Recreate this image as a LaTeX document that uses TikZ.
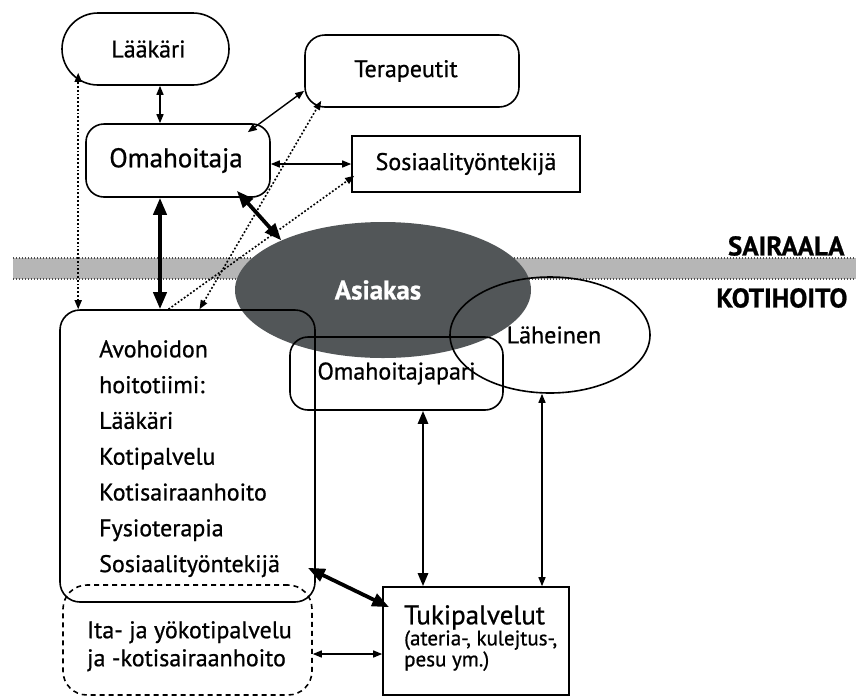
\documentclass[tikz,border=0pt]{standalone}
\usepackage{fontspec}
\setmainfont{PT Sans}[FakeBold=0.8]
\usetikzlibrary{arrows.meta,shapes.geometric}
\definecolor{asiakasfill}{RGB}{82,86,88}
\definecolor{bandfill}{RGB}{182,182,182}

\begin{document}
\begin{tikzpicture}[x=1pt,y=-1pt,
      box/.style={rectangle,rounded corners=18pt,draw,line width=1.6pt,inner sep=0pt,font=\fontsize{24}{28}\selectfont},
      sharpbox/.style={box,sharp corners},
      oval/.style={ellipse,draw,line width=1.6pt,inner sep=0pt,font=\fontsize{24}{28}\selectfont},
      listtext/.style={anchor=north west,inner sep=0pt,align=left},
      arrow/.style={{Triangle[length=9pt,width=7pt]}-{Triangle[length=9pt,width=7pt]},line width=1.4pt},
      midarrow/.style={{Triangle[length=13pt,width=10pt]}-{Triangle[length=13pt,width=10pt]},line width=2.6pt},
      thickarrow/.style={{Triangle[length=17pt,width=13pt]}-{Triangle[length=17pt,width=13pt]},line width=3.8pt},
      dotarrow/.style={arrow,line width=1.6pt,dash pattern=on 1.8pt off 2pt},
      side/.style={anchor=east,font=\fontsize{27}{30}\selectfont\bfseries}
    ]
    \useasboundingbox (0,0) rectangle (856,697);
    % raja sairaalan ja kotihoidon valilla
    \node[rectangle,fill=bandfill,minimum width=843pt,minimum height=21pt,inner sep=0pt] (band) at (434.5,268.5) {};
    \draw[line width=1.5pt,dash pattern=on 1.5pt off 1.5pt,gray!60!black] (band.north west) -- (band.north east);
    \draw[line width=1.5pt,dash pattern=on 1.5pt off 1.5pt,gray!60!black] (band.south west) -- (band.south east);
    \node[side] (sairaala) at (848,246) {SAIRAALA};
    \node[side] (kotihoito) at (851,298) {KOTIHOITO};
    \node[ellipse,fill=asiakasfill,minimum width=296pt,minimum height=136pt,text=white,font=\fontsize{27}{30}\selectfont\bfseries] (as) at (383,290) {\hspace*{-10pt}Asiakas};
    % sairaalan puoli
    \node[box,rounded corners=36pt,minimum width=167pt,minimum height=72pt] (lk) at (145.5,49) {\hspace*{6pt}Lääkäri};
    \node[box,rounded corners=20pt,minimum width=214pt,minimum height=72pt] (te) at (412,71) {\hspace*{-12pt}Terapeutit};
    \node[box,minimum width=184pt,minimum height=73pt,font=\fontsize{27}{30}\selectfont] (oh) at (178,160.5) {\hspace*{-4pt}Omahoitaja};
    \node[sharpbox,minimum width=228pt,minimum height=56pt] (so) at (466,164) {Sosiaalityöntekijä};
    % kotihoidon puoli
    \node[box,rounded corners=20pt,minimum width=255pt,minimum height=292pt] (av) at (187.5,456) {};
    \node[listtext,font=\fontsize{24}{35.8}\selectfont] (avteksti) at (99,340)
      {Avohoidon\\hoitotiimi:\\Lääkäri\\Kotipalvelu\\Kotisairaanhoito\\Fysioterapia\\Sosiaalityöntekijä};
    \node[box,rounded corners=24pt,dashed,dash pattern=on 5pt off 4pt,minimum width=249pt,minimum height=110pt] (ik) at (187.5,640) {};
    \node[listtext,font=\fontsize{24}{28}\selectfont] (ikteksti) at (87,621)
      {Ita- ja yökotipalvelu\\ja -kotisairaanhoito};
    \node[box,minimum width=213pt,minimum height=73pt] (op) at (396.5,373.5) {\raisebox{-4pt}{Omahoitajapari}};
    \node[oval,minimum width=200pt,minimum height=116pt] (lh) at (550,335) {\raisebox{-2pt}{\hspace*{8pt}Läheinen}};
    \node[sharpbox,minimum width=186pt,minimum height=108pt] (tk) at (476,641) {};
    \node[listtext,font=\fontsize{21}{21}\selectfont] (tkteksti) at (404,605)
      {{\fontsize{27}{28}\selectfont Tukipalvelut}\\(ateria-, kulejtus-,\\pesu ym.)};
    % yhteydet
    \draw[arrow] ([xshift=14.5pt]lk.south) -- ([xshift=-18pt]oh.north);
    \draw[arrow] ([yshift=17pt]te.south west) -- ([shift={(-23pt,-9pt)}]oh.north east);
    \draw[arrow] (so.west -| oh.east) -- (so.west);
    \draw[thickarrow] ([shift={(-34pt,7pt)}]oh.south east) -- (as.154);
    \draw[thickarrow] ([xshift=-27.5pt]av.north) -- ([xshift=-18pt]oh.south);
    \draw[dotarrow] ([xshift=19pt]av.north west) -- ([shift={(17pt,13pt)}]lk.south west);
    \draw[dotarrow] ([xshift=12pt]av.north) -- ([shift={(17pt,7pt)}]te.south west);
    \draw[dotarrow,arrows={-Triangle[length=9pt,width=7pt]}] ([xshift=-19pt]av.north) -- ([shift={(3pt,17pt)}]so.south west);
    \draw[thickarrow] ([shift={(-8pt,35pt)}]av.south east) -- ([shift={(7pt,-21pt)}]tk.north west);
    \draw[midarrow] ([xshift=26.5pt]op.south) -- ([xshift=26.5pt]op.south |- tk.north);
    \draw[arrow] ([xshift=-8pt]lh.south) -- ([xshift=-8pt]lh.south |- tk.north);
    \draw[arrow] ([yshift=-14pt]ik.east) -- ([yshift=-14pt]ik.east -| tk.west);
  \end{tikzpicture}
\end{document}
